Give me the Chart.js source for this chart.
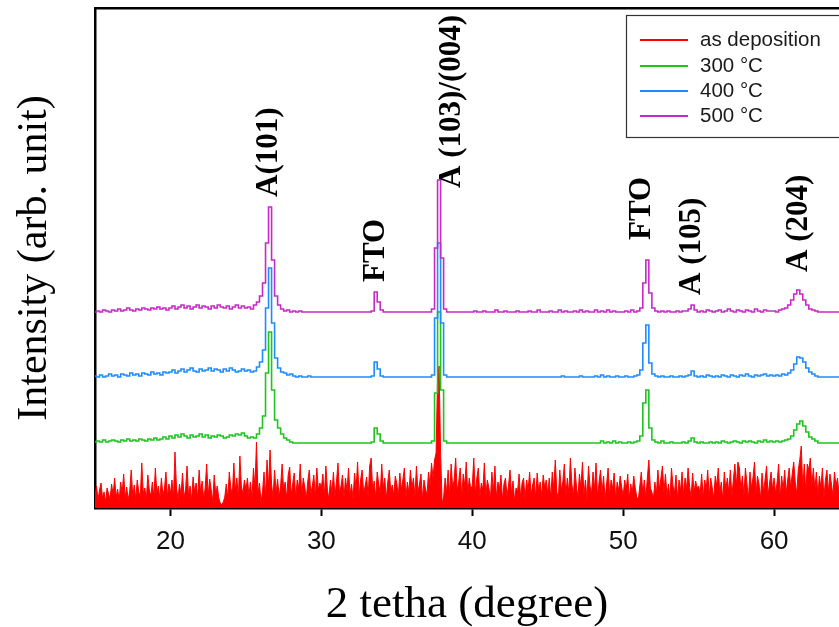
<!DOCTYPE html>
<html>
<head>
<meta charset="utf-8">
<script src="https://cdn.jsdelivr.net/npm/chart.js@4.4.0/dist/chart.umd.min.js"></script>
<style>
  html, body { margin: 0; padding: 0; background: #fff; }
  #xrd { display: block; }
</style>
</head>
<body>
<canvas id="xrd" width="839" height="627"></canvas>
<script>
// XRD patterns of the films, 2θ scan from 15°.
const scanStart = 15.0;
const rawStep = 0.1;      // step of the as-deposited scan
const annealStep = 0.2;   // step of the annealed scans

const seriesNames = ['as deposition', '300 \u00B0C', '400 \u00B0C', '500 \u00B0C'];
const seriesColors = ['#ff0000', '#1fc41f', '#1e8cff', '#c62ac6'];

// as deposited (0.1° step, 15.0 – 64.9)
const asDeposited = [
  12,22,8,18,25,10,16,6,20,14,9,24,13,30,11,19,7,26,15,34,10,21,8,17,38,12,23,9,28,16,11,45,14,20,8,33,18,12,26,10,40,15,22,9,30,13,19,36,11,24,
  14,28,10,56,20,9,24,13,35,11,18,42,12,22,8,31,16,25,10,38,15,27,9,20,44,12,29,18,7,33,14,22,10,5,3,6,11,24,9,36,20,13,45,17,30,10,52,22,14,28,
  18,30,12,26,9,40,20,66,14,25,6,16,36,12,48,20,58,24,10,38,15,29,11,22,44,17,26,9,33,41,13,24,35,10,28,19,44,12,30,21,9,27,38,14,22,33,11,40,18,25,
  20,34,12,42,18,9,28,15,36,11,26,45,14,22,33,10,30,17,40,13,24,9,35,19,46,12,28,38,15,22,31,11,42,50,18,27,10,36,24,14,44,20,30,9,26,38,16,23,12,32,
  24,12,35,18,28,40,10,26,15,38,20,30,11,42,16,24,34,9,28,19,13,36,22,45,30,48,55,130,142,55,6,10,30,15,38,12,44,20,28,50,17,26,40,11,34,22,46,14,30,19,
  22,50,14,30,40,11,25,18,45,12,28,20,9,36,16,42,10,26,19,33,8,24,30,12,22,38,14,27,7,20,16,34,11,25,30,9,28,18,36,13,23,30,10,35,17,26,12,33,20,28,
  14,30,10,36,20,48,16,9,38,18,26,44,12,30,15,50,24,11,40,22,10,34,20,46,13,28,8,42,22,14,36,18,45,11,26,38,15,32,9,24,40,13,28,19,35,10,26,17,32,21,
  12,28,18,34,9,24,15,32,20,11,8,22,36,14,28,10,30,48,20,16,9,26,14,38,18,30,42,16,34,12,24,10,40,22,15,33,9,28,17,36,13,30,19,40,22,10,35,16,27,20,
  22,14,34,10,28,18,38,12,30,20,9,32,22,40,15,26,8,36,18,30,16,38,12,28,44,22,46,40,18,32,12,40,24,10,36,20,30,46,14,32,24,9,35,16,28,42,12,25,36,18,
  30,14,26,44,10,32,18,38,15,28,40,20,34,46,26,14,38,48,62,20,44,16,44,38,50,22,40,18,36,12,32,20,40,10,28,38,16,34,24,12,36,22,30,14,34,24,12,32,18,28
];

// annealed at 300 °C (0.2° step, 15.0 – 64.8)
const annealed300 = [
  66,67,66,68,66,67,68,67,66,68,67,69,67,68,67,69,68,67,69,68,70,68,69,71,69,
  72,70,73,71,74,72,70,73,71,72,74,71,73,70,72,71,73,72,70,71,73,72,74,73,75,
  72,70,71,70,74,80,92,135,176,118,88,80,74,70,68,66,65,65,65,65,65,65,65,65,65,
  65,65,65,65,65,65,65,65,65,65,65,65,65,65,65,65,65,66,80,74,67,65,65,65,65,
  65,65,65,65,65,65,65,65,65,65,65,65,67,115,196,118,67,65,65,65,65,65,65,65,65,
  65,65,65,65,65,65,65,65,65,65,65,65,65,65,65,65,65,65,65,65,65,65,65,65,65,
  65,65,65,65,65,65,65,65,65,65,65,65,65,65,65,65,65,65,67,65,66,65,67,65,66,
  65,65,66,65,66,67,72,105,118,80,68,66,65,67,65,65,66,65,65,65,66,65,67,70,66,
  65,66,65,65,66,65,66,65,67,66,65,66,67,66,65,67,66,67,66,65,67,66,68,66,67,
  66,67,66,67,68,69,72,78,84,87,82,76,71,69,67,65,65,65,65,65,65,65,65,65,65
];

// annealed at 400 °C
const annealed400 = [
  132,131,133,131,132,134,132,133,131,134,133,132,135,133,134,132,135,134,133,136,134,135,133,136,135,
  136,138,135,137,139,136,138,140,137,136,139,137,138,140,137,139,138,136,139,137,140,138,136,137,139,
  137,138,136,137,141,146,158,200,240,185,150,140,136,135,133,134,132,131,132,131,131,132,131,131,131,
  131,131,131,131,131,131,131,131,131,131,131,131,131,131,131,131,131,132,146,139,132,131,131,131,131,
  131,131,131,131,131,131,131,131,131,131,131,131,133,190,265,185,133,131,131,131,131,131,131,131,131,
  131,131,131,131,131,131,131,131,131,131,131,131,131,131,131,131,131,131,131,131,131,131,131,131,131,
  131,131,131,131,131,132,131,131,131,131,131,132,131,131,131,131,132,131,133,131,132,131,131,132,131,
  131,132,131,131,132,133,138,165,183,145,134,132,131,132,131,131,132,131,131,132,131,132,133,137,132,
  131,132,131,133,132,131,132,131,133,132,131,133,132,131,133,132,134,132,131,133,132,133,134,132,133,
  132,133,132,134,133,135,138,144,151,150,146,140,136,134,132,131,131,131,131,131,131,131,131,131,131
];

// annealed at 500 °C
const annealed500 = [
  196,197,196,198,197,196,198,197,199,197,198,200,198,197,199,198,200,199,198,200,199,201,199,200,198,
  200,202,199,201,203,200,202,199,201,203,200,202,201,199,202,200,203,201,200,202,199,201,203,200,202,
  200,201,199,203,206,212,225,265,301,248,212,203,199,197,198,196,197,196,197,196,196,196,196,196,196,
  196,196,196,196,196,196,196,196,196,196,196,196,196,196,196,196,196,197,216,206,198,196,196,196,196,
  196,196,196,196,196,196,196,196,196,196,196,196,199,260,328,250,199,196,196,196,196,196,196,196,196,
  196,197,196,196,197,196,196,196,198,196,196,197,196,196,196,197,196,196,196,197,196,196,198,196,196,
  196,197,196,196,198,196,197,196,196,197,196,198,196,197,196,196,198,196,197,196,198,196,197,196,196,
  196,197,196,198,196,197,200,225,248,215,200,197,196,197,196,197,196,196,197,196,197,197,199,203,198,
  196,197,196,198,197,196,197,198,196,197,199,197,196,198,197,196,198,197,196,199,197,196,198,197,197,
  197,196,198,199,200,203,208,214,218,214,208,203,199,198,197,196,196,196,196,196,196,196,196,196,196
];

const xTickValues = [20, 30, 40, 50, 60];

// reflection labels: text, 2θ position, intensity where the label starts
const peakNames   = ['A(101)', 'FTO', 'A (103)/(004)', 'FTO', 'A (105)', 'A (204)'];
const peakLabelAt = [26.56, 33.64, 38.68, 51.26, 54.57, 61.66];
const peakLabelY  = [311, 226, 320, 268, 213, 236];

function toPoints(values, step) {
  return values.map((v, i) => ({ x: +(scanStart + i * step).toFixed(1), y: v }));
}

// reflection labels, rotated to read upwards
const peakLabels = {
  id: 'peakLabels',
  afterDatasetsDraw(chart) {
    const { ctx, scales: { x, y } } = chart;
    ctx.save();
    ctx.fillStyle = '#000';
    ctx.font = 'bold 31px "Liberation Serif", "Times New Roman", serif';
    ctx.textAlign = 'left';
    ctx.textBaseline = 'middle';
    peakNames.forEach((name, i) => {
      const px = x.getPixelForValue(peakLabelAt[i]);
      const py = y.getPixelForValue(peakLabelY[i]);
      ctx.save();
      ctx.translate(px, py);
      ctx.rotate(-Math.PI / 2);
      ctx.fillText(name, 0, 0);
      ctx.restore();
    });
    ctx.restore();
  }
};

// boxed legend in the upper right corner
const boxedLegend = {
  id: 'boxedLegend',
  afterDraw(chart) {
    const { ctx } = chart;
    const left = 626, top = 15, bottom = 137;
    ctx.save();
    ctx.fillStyle = '#fff';
    ctx.fillRect(left, top, chart.width - left + 5, bottom - top);
    ctx.strokeStyle = '#333';
    ctx.lineWidth = 1.2;
    ctx.strokeRect(left + 0.5, top + 0.5, chart.width - left + 10, bottom - top);
    const rows = [40, 66, 91, 116];
    ctx.font = '20.5px "Liberation Sans", Arial, sans-serif';
    ctx.textBaseline = 'middle';
    ctx.textAlign = 'left';
    chart.data.datasets.forEach((ds, i) => {
      ctx.strokeStyle = ds.borderColor;
      ctx.lineWidth = 2;
      ctx.beginPath();
      ctx.moveTo(640, rows[i]);
      ctx.lineTo(688, rows[i]);
      ctx.stroke();
      ctx.fillStyle = '#1a1a1a';
      ctx.fillText(ds.label, 700, rows[i]);
    });
    ctx.restore();
  }
};

new Chart(document.getElementById('xrd'), {
  type: 'line',
  data: {
    datasets: [
      { label: seriesNames[0], data: toPoints(asDeposited, rawStep), borderColor: seriesColors[0],
        backgroundColor: seriesColors[0], borderWidth: 1, fill: 'origin', order: 4 },
      { label: seriesNames[1], data: toPoints(annealed300, annealStep), borderColor: seriesColors[1],
        borderWidth: 1.6, fill: false, stepped: 'middle', order: 3 },
      { label: seriesNames[2], data: toPoints(annealed400, annealStep), borderColor: seriesColors[2],
        borderWidth: 1.6, fill: false, stepped: 'middle', order: 2 },
      { label: seriesNames[3], data: toPoints(annealed500, annealStep), borderColor: seriesColors[3],
        borderWidth: 1.6, fill: false, stepped: 'middle', order: 1 }
    ]
  },
  options: {
    animation: false,
    responsive: false,
    devicePixelRatio: 1,
    layout: { padding: { top: 8, right: 0, bottom: 0, left: 0 } },
    elements: { point: { radius: 0 }, line: { tension: 0 } },
    plugins: { legend: { display: false }, tooltip: { enabled: false } },
    scales: {
      x: {
        type: 'linear', position: 'bottom', min: 15, max: 64.3,
        afterBuildTicks: s => { s.ticks = xTickValues.map(v => ({ value: v })); },
        afterFit: s => { s.height = 119; },
        grid: { display: true, drawOnChartArea: false, drawTicks: true, tickLength: 8, tickWidth: 2, tickColor: '#000' },
        border: { display: true, color: '#000', width: 2.5 },
        ticks: { color: '#111', font: { family: '"Liberation Sans", Arial, sans-serif', size: 26 }, padding: 10, maxRotation: 0 },
        title: { display: true, text: '2 tetha (degree)', color: '#000',
          font: { family: '"Liberation Serif", "Times New Roman", serif', size: 45 }, padding: { top: 0, bottom: -5 } }
      },
      xTop: {
        type: 'linear', position: 'top', min: 15, max: 64.3,
        afterFit: s => { s.height = 0; },
        grid: { display: false, drawTicks: false },
        ticks: { display: false },
        border: { display: true, color: '#000', width: 2.5 }
      },
      y: {
        min: 0, max: 500,
        afterFit: s => { s.width = 95; },
        grid: { display: false, drawTicks: false },
        ticks: { display: false },
        border: { display: true, color: '#000', width: 2.5 },
        title: { display: true, text: 'Intensity (arb. unit)', color: '#000',
          font: { family: '"Liberation Serif", "Times New Roman", serif', size: 42 }, padding: { top: 10, bottom: 0 } }
      }
    }
  },
  plugins: [peakLabels, boxedLegend]
});
</script>
</body>
</html>
